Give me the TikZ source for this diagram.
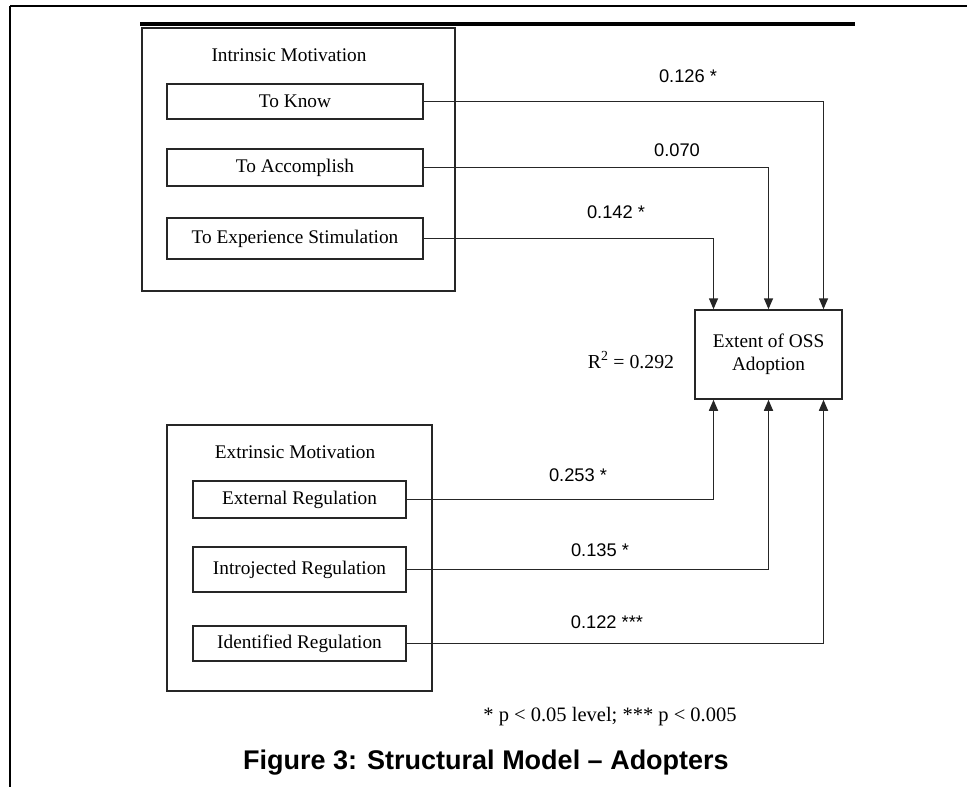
\documentclass[tikz,border=0pt]{standalone}
\usepackage{fontspec}
\setmainfont{Liberation Serif}
\newfontfamily\arialf{Liberation Sans}
\usetikzlibrary{arrows.meta}
\tikzset{
  box/.style={draw=black!85, line width=1.5pt, inner sep=0pt, font=\fontsize{19.3}{22}\selectfont},
  grp/.style={draw=black!85, line width=1.5pt, inner sep=0pt},
  ttl/.style={font=\fontsize{19.3}{22}\selectfont, inner sep=0pt},
  coef/.style={font=\arialf\fontsize{18.3}{20}\selectfont, inner sep=0pt},
  conn/.style={draw=black!85, line width=1.5pt},
  arr/.style={conn, -{Triangle[width=9pt,length=11pt]}},
}
\begin{document}
\begin{tikzpicture}[x=1pt,y=-1pt]
\useasboundingbox (0,0) rectangle (967,787);
% outer frame lines
\draw[line width=2.6pt] (10,6) -- (967,6);
\draw[line width=2.6pt] (10,6) -- (10,787);
\draw[line width=4pt] (140,24) -- (855,24);

% intrinsic group
\node[grp, minimum width=313pt, minimum height=263pt] (intr) at (298.5,159.5) {};
\node[ttl] (intrt) at (289,55) {Intrinsic Motivation};
\node[box, minimum width=256pt, minimum height=35pt] (know) at (295,101.5) {To Know};
\node[box, minimum width=256pt, minimum height=37pt] (accm) at (295,167.5) {To Accomplish};
\node[box, minimum width=256pt, minimum height=41pt] (stim) at (295,238.5) {To Experience Stimulation};

% extrinsic group
\node[grp, minimum width=265pt, minimum height=266pt] (extr) at (299.5,558) {};
\node[ttl] (extrt) at (295,452) {Extrinsic Motivation};
\node[box, minimum width=213pt, minimum height=37pt] (ext) at (299.5,499.5) {External Regulation};
\node[box, minimum width=213pt, minimum height=45pt] (intj) at (299.5,569.5) {Introjected Regulation};
\node[box, minimum width=213pt, minimum height=35pt] (idr) at (299.5,643.5) {Identified Regulation};

% outcome
\node[box, minimum width=147pt, minimum height=89pt, align=center] (oss) at (768.5,354.5) {Extent of OSS\\[1pt]Adoption};
\node[ttl, font=\fontsize{19.8}{22}\selectfont] (rsq) at (631,360) {R\textsuperscript{2} = 0.292};

% connectors
\draw[arr] (know.east) -| ([xshift=55pt]oss.north);
\draw[arr] (accm.east) -| (oss.north);
\draw[arr] (stim.east) -| ([xshift=-55pt]oss.north);
\draw[arr] (ext.east) -| ([xshift=-55pt]oss.south);
\draw[arr] (intj.east) -| (oss.south);
\draw[arr] (idr.east) -| ([xshift=55pt]oss.south);

% coefficients
\node[coef] (c1) at (688,76) {0.126 *};
\node[coef] (c2) at (677,150) {0.070};
\node[coef] (c3) at (616,212) {0.142 *};
\node[coef] (c4) at (578,475) {0.253 *};
\node[coef] (c5) at (600,550) {0.135 *};
\node[coef] (c6) at (607,622) {0.122 ***};

% footnote and caption
\node[ttl, font=\fontsize{20.5}{22}\selectfont] (foot) at (610,717) {* p < 0.05 level; *** p < 0.005};
\node[font=\arialf\bfseries\fontsize{27}{30}\selectfont, inner sep=0pt] (cap) at (486,763) {Figure 3: Structural Model – Adopters};
\end{tikzpicture}
\end{document}
